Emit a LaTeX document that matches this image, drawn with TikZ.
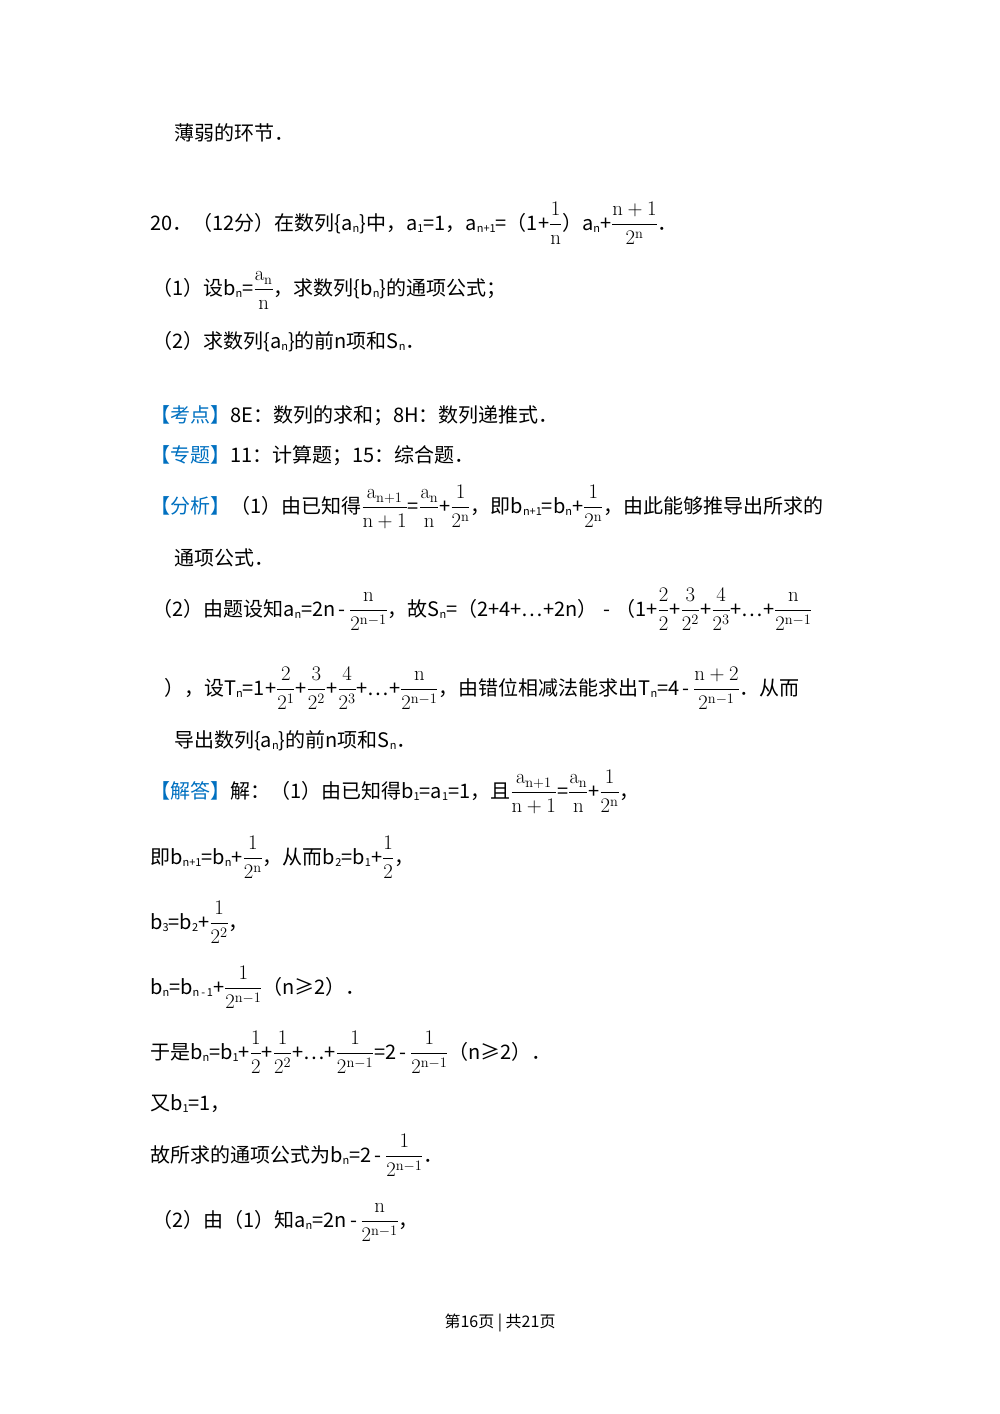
\documentclass[tikz,border=0pt]{standalone}
\usepackage{amsmath}
\usepackage[no-math]{fontspec}
\setmainfont{Noto Sans CJK SC}
\definecolor{kb}{RGB}{0,112,192}
\newcommand\dn[1]{{\fontsize{11}{12}\selectfont\raisebox{-2pt}{#1}}}
\newcommand\fr[2]{{\fontsize{21}{23}\selectfont$\dfrac{\mathrm{#1}}{\mathrm{#2}}$}}
\newcommand\tg[1]{\textcolor{kb}{【#1】}}
\begin{document}
\begin{tikzpicture}[x=1pt,y=-1pt,every node/.style={anchor=base west,inner sep=0pt,font=\fontsize{20}{23}\selectfont}]
\useasboundingbox (0,0) rectangle (1000,1414);
\node (l1) at (174,140) {薄弱的环节．};
\node (l2) at (150,230) {20．（12分）在数列\{a\dn{n}\}中，a\dn{1}=1，a\dn{n+1}=（1+\fr{1}{n}）a\dn{n}+\fr{n+1}{2^n}．};
\node (l3) at (152,295) {（1）设b\dn{n}=\fr{a_n}{n}，求数列\{b\dn{n}\}的通项公式；};
\node (l4) at (152,348) {（2）求数列\{a\dn{n}\}的前n项和S\dn{n}．};
\node (l5) at (150,422) {\tg{考点}8E：数列的求和；8H：数列递推式．};
\node (l6) at (150,462) {\tg{专题}11：计算题；15：综合题．};
\node (l7) at (150,513) {\tg{分析}（1）由已知得\fr{a_{n+1}}{n+1}=\fr{a_n}{n}+\fr{1}{2^n}，即b\dn{n+1}=b\dn{n}+\fr{1}{2^n}，由此能够推导出所求的};
\node (l8) at (174,565) {通项公式．};
\node (l9) at (152,616) {（2）由题设知a\dn{n}=2n\,-\,\fr{n}{2^{n-1}}，故S\dn{n}=（2+4+…+2n）\;-\;（1+\fr{2}{2}+\fr{3}{2^2}+\fr{4}{2^3}+…+\fr{n}{2^{n-1}}};
\node (l10) at (164,695) {），设T\dn{n}=1+\fr{2}{2^1}+\fr{3}{2^2}+\fr{4}{2^3}+…+\fr{n}{2^{n-1}}，由错位相减法能求出T\dn{n}=4\,-\,\fr{n+2}{2^{n-1}}．从而};
\node (l11) at (174,747) {导出数列\{a\dn{n}\}的前n项和S\dn{n}．};
\node (l12) at (150,798) {\tg{解答}解：（1）由已知得b\dn{1}=a\dn{1}=1，且\fr{a_{n+1}}{n+1}=\fr{a_n}{n}+\fr{1}{2^n}，};
\node (l13) at (150,864) {即b\dn{n+1}=b\dn{n}+\fr{1}{2^n}，从而b\dn{2}=b\dn{1}+\fr{1}{2}，};
\node (l14) at (150,929) {b\dn{3}=b\dn{2}+\fr{1}{2^2}，};
\node (l15) at (150,994) {b\dn{n}=b\dn{n\,-\,1}+\fr{1}{2^{n-1}}（n≥2）．};
\node (l16) at (150,1059) {于是b\dn{n}=b\dn{1}+\fr{1}{2}+\fr{1}{2^2}+…+\fr{1}{2^{n-1}}=2\,-\,\fr{1}{2^{n-1}}（n≥2）．};
\node (l17) at (150,1110) {又b\dn{1}=1，};
\node (l18) at (150,1162) {故所求的通项公式为b\dn{n}=2\,-\,\fr{1}{2^{n-1}}．};
\node (l19) at (152,1227) {（2）由（1）知a\dn{n}=2n\,-\,\fr{n}{2^{n-1}}，};
\node[anchor=base,font=\fontsize{16}{19}\selectfont] (ft) at (500,1327) {第16页 | 共21页};
\end{tikzpicture}
\end{document}
